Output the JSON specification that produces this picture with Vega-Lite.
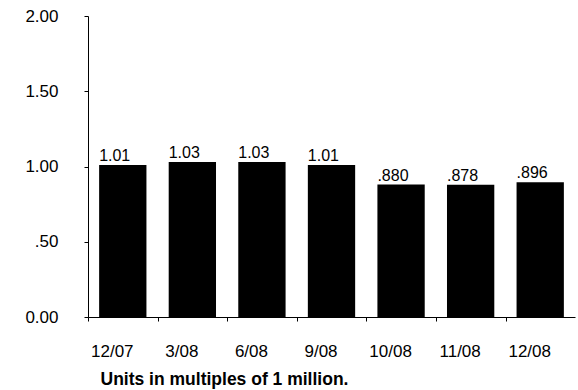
{
  "$schema": "https://vega.github.io/schema/vega-lite/v6.json",
  "width": 487,
  "height": 301,
  "autosize": {"type": "none"},
  "padding": {"left": 88, "top": 16, "right": 3, "bottom": 73},
  "background": "white",
  "config": {
    "view": {"stroke": null},
    "font": "Liberation Sans",
    "axis": {"grid": false, "domainColor": "black", "tickColor": "black", "labelColor": "black", "labelFontSize": 17, "titleColor": "black"}
  },
  "data": {
    "values": [
      {"period": "12/07", "value": 1.01, "label": "1.01"},
      {"period": "3/08", "value": 1.03, "label": "1.03"},
      {"period": "6/08", "value": 1.03, "label": "1.03"},
      {"period": "9/08", "value": 1.01, "label": "1.01"},
      {"period": "10/08", "value": 0.880, "label": ".880"},
      {"period": "11/08", "value": 0.878, "label": ".878"},
      {"period": "12/08", "value": 0.896, "label": ".896"}
    ]
  },
  "encoding": {
    "x": {
      "field": "period", "type": "nominal", "sort": null,
      "scale": {"paddingInner": 0.32, "paddingOuter": 0.16},
      "axis": {
        "labelAngle": 0, "labelPadding": 22, "tickSize": 4, "bandPosition": 0, "tickOffset": -11,
        "title": "Units in multiples of 1 million.", "titleAnchor": "start", "titleAlign": "left",
        "titleFontSize": 17.5, "titleFontWeight": "bold", "titleX": 12, "titleY": 53
      }
    },
    "y": {
      "field": "value", "type": "quantitative",
      "scale": {"domain": [0, 2]},
      "axis": {
        "values": [0, 0.5, 1, 1.5, 2], "title": null, "tickSize": 4, "labelPadding": 26,
        "labelExpr": "datum.value == 0 ? '0.00' : datum.value == 0.5 ? '.50' : format(datum.value, '.2f')"
      }
    }
  },
  "layer": [
    {"mark": {"type": "bar", "color": "black"}},
    {
      "mark": {"type": "text", "align": "left", "baseline": "bottom", "dy": -1, "fontSize": 16, "color": "black"},
      "encoding": {
        "x": {"field": "period", "type": "nominal", "sort": null, "bandPosition": 0},
        "text": {"field": "label"}
      }
    }
  ]
}
